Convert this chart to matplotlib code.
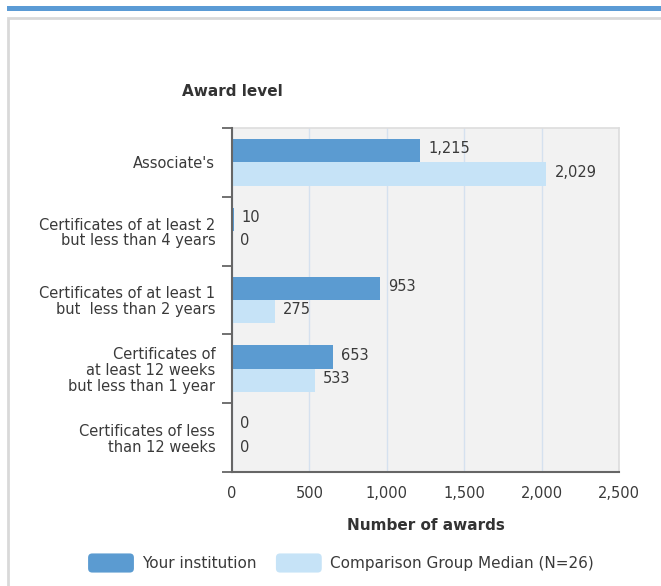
import matplotlib
matplotlib.use("Agg")
import matplotlib.pyplot as plt
import numpy as np
from matplotlib.patches import Patch, Rectangle, FancyBboxPatch
from matplotlib.legend_handler import HandlerPatch

# data
categories = [
    "Associate's",
    "Certificates of at least 2\nbut less than 4 years",
    "Certificates of at least 1\nbut  less than 2 years",
    "Certificates of\nat least 12 weeks\nbut less than 1 year",
    "Certificates of less\nthan 12 weeks",
]
your_institution = [1215, 10, 953, 653, 0]
comparison_median = [2029, 0, 275, 533, 0]
series_names = ["Your institution", "Comparison Group Median (N=26)"]
x_ticks = [0, 500, 1000, 1500, 2000, 2500]

dark_blue = "#5b9bd1"
light_blue = "#c6e3f7"
text_col = "#3a3a3a"

plt.rcParams['font.family'] = ['DejaVu Sans']

W, H = 661, 586
fig = plt.figure(figsize=(W / 100, H / 100), dpi=100)

# page decoration: blue stripe and panel frame (behind the axes)
fig.patches.append(Rectangle((7 / W, 1 - 11 / H), 1, 5 / H, transform=fig.transFigure,
                             facecolor="#5b9bd5", edgecolor="none", zorder=-10))
fig.patches.append(Rectangle((8 / W, -0.05), 1.1, 1.05 - 18 / H, transform=fig.transFigure,
                             facecolor="white", edgecolor="#d9d9d9", linewidth=2, zorder=-10))

ax = fig.add_axes([232 / W, 1 - 472 / H, (619 - 232) / W, (472 - 128) / H])
ax.set_facecolor("#f2f2f2")

y = np.arange(len(categories))
h = 0.34
ax.barh(y - h / 2, your_institution, height=h, color=dark_blue, zorder=3)
ax.barh(y + h / 2, comparison_median, height=h, color=light_blue, zorder=3)

for yi, v in zip(y, your_institution):
    ax.annotate(f"{v:,}", (v, yi - h / 2), xytext=(6, 1.5), textcoords="offset points",
                va="center", ha="left", fontsize=10.5, color=text_col)
for yi, v in zip(y, comparison_median):
    ax.annotate(f"{v:,}", (v, yi + h / 2), xytext=(6, 1.5), textcoords="offset points",
                va="center", ha="left", fontsize=10.5, color=text_col)

ax.set_xlim(0, 2500)
ax.set_ylim(len(categories) - 0.5, -0.5)
ax.set_xticks(x_ticks)
ax.set_xticklabels([f"{t:,}" for t in x_ticks], fontsize=10.5, color=text_col)
ax.tick_params(axis="x", length=0, pad=10)
ax.grid(axis="x", color="#d5e1ef", linewidth=1, zorder=0)

ax.set_yticks(y)
ax.set_yticklabels(categories, fontsize=10.5, color=text_col, linespacing=1.05)
ax.set_yticks(np.arange(len(categories) + 1) - 0.5, minor=True)
ax.tick_params(axis="y", which="major", length=0, pad=12)
ax.tick_params(axis="y", which="minor", length=7.5, width=1.3, color="#666666")

for s in ("top", "right"):
    ax.spines[s].set_color("#dddddd")
    ax.spines[s].set_linewidth(1.2)
for s in ("left", "bottom"):
    ax.spines[s].set_color("#666666")
    ax.spines[s].set_linewidth(1.5)
ax.spines["left"].set_zorder(4)

ax.set_xlabel("Number of awards", fontsize=11, fontweight="bold", color="#333333", labelpad=12)
fig.text(232 / W, 1 - 92 / H, "Award level", fontsize=11, fontweight="bold",
         color="#333333", ha="center", va="center")


def rounded_patch(legend, orig_handle, xdescent, ydescent, width, height, fontsize):
    return FancyBboxPatch((-xdescent, -ydescent), width, height,
                          boxstyle="round,pad=0,rounding_size=3")


handles = [Patch(facecolor=dark_blue, edgecolor="none"),
           Patch(facecolor=light_blue, edgecolor="none")]
fig.legend(handles, series_names, loc="center", bbox_to_anchor=(341 / W, 1 - 563 / H),
           ncol=2, frameon=False, fontsize=11, handlelength=3.0, handleheight=1.55,
           handletextpad=0.55, columnspacing=1.25, labelcolor=text_col,
           handler_map={Patch: HandlerPatch(patch_func=rounded_patch)})

fig.savefig("out.png", dpi=100, facecolor="white")
